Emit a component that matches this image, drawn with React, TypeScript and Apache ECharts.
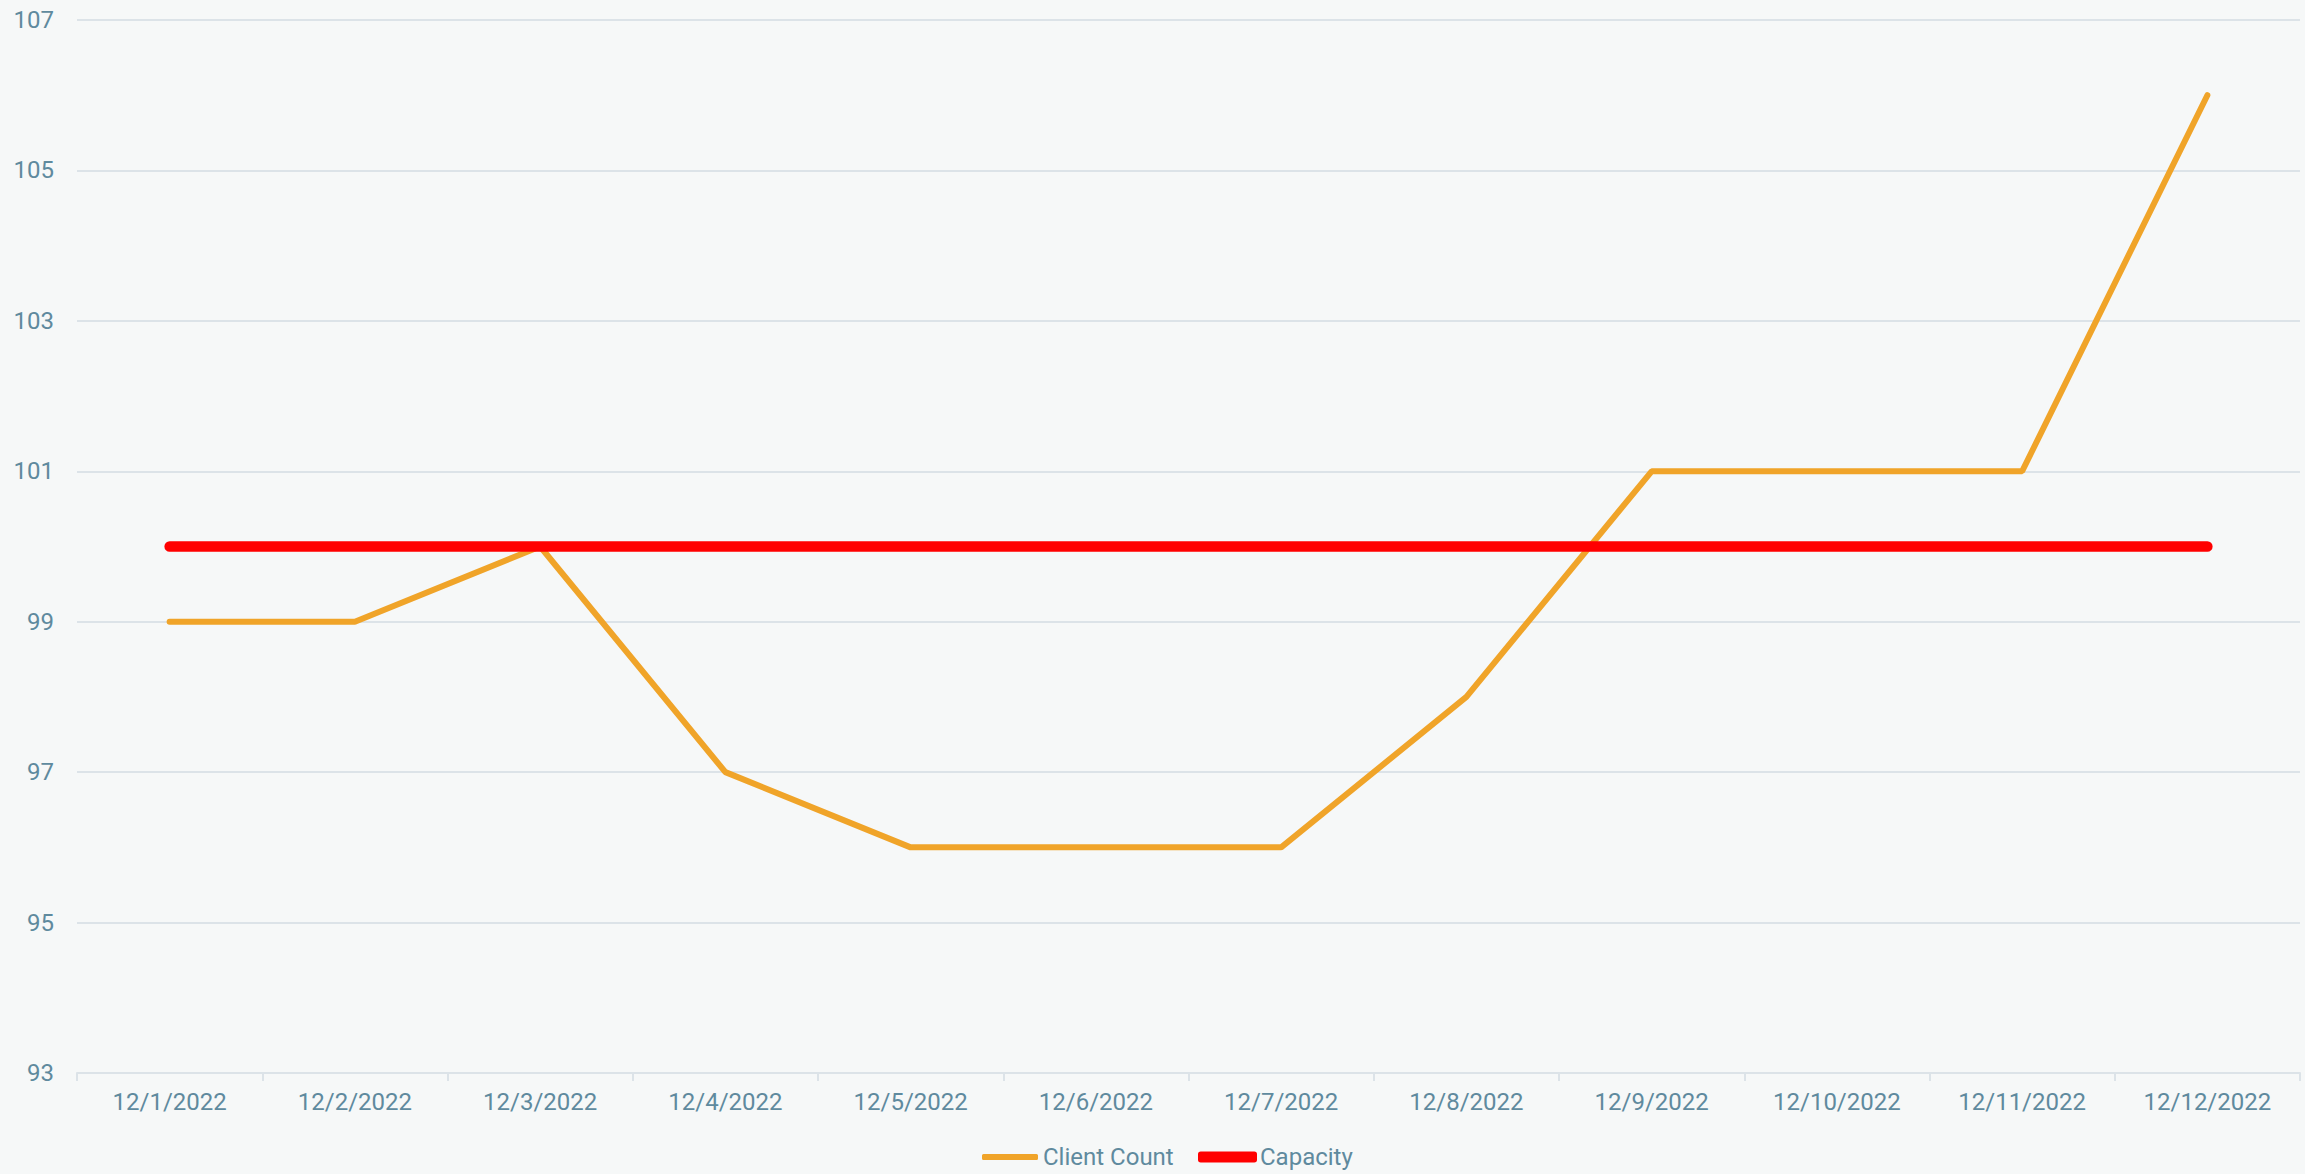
import React, { useEffect, useRef } from "react";
import * as echarts from "echarts";

const categories = [
  "12/1/2022", "12/2/2022", "12/3/2022", "12/4/2022", "12/5/2022", "12/6/2022",
  "12/7/2022", "12/8/2022", "12/9/2022", "12/10/2022", "12/11/2022", "12/12/2022",
];
const clientCount = [99, 99, 100, 97, 96, 96, 96, 98, 101, 101, 101, 106];
const capacity = [100, 100, 100, 100, 100, 100, 100, 100, 100, 100, 100, 100];
const yMin = 93;
const yMax = 107;
const yInterval = 2;

const labelColor = "#5F8A9E";
const gridColor = "#DCE3E8";
const orange = "#F0A429";
const red = "#FF0000";

export default function App() {
  const ref = useRef<HTMLDivElement>(null);
  useEffect(() => {
    document.body.style.margin = "0";
    const chart = echarts.init(ref.current!, null, { renderer: "svg" });
    const legendText = { color: labelColor, fontSize: 24, fontFamily: "Roboto" };
    chart.setOption({
      animation: false,
      backgroundColor: "#F6F8F8",
      textStyle: { fontFamily: "Roboto" },
      grid: { left: 77, right: 5, top: 20, bottom: 101, containLabel: false },
      legend: [
        {
          top: 1145,
          left: 982,
          padding: 0,
          itemWidth: 56,
          itemHeight: 6,
          icon: "roundRect",
          textStyle: legendText,
          data: [{ name: "Client Count", itemStyle: { color: orange } }],
        },
        {
          top: 1145,
          left: 1198,
          padding: 0,
          itemWidth: 59,
          itemHeight: 11,
          itemGap: 0,
          icon: "roundRect",
          textStyle: { ...legendText, padding: [0, 0, 0, -2] },
          data: [{ name: "Capacity", itemStyle: { color: red } }],
        },
      ],
      xAxis: {
        type: "category",
        data: categories,
        boundaryGap: true,
        axisLine: { lineStyle: { color: gridColor, width: 2 } },
        axisTick: { show: true, length: 8, lineStyle: { color: gridColor, width: 2 } },
        axisLabel: { color: labelColor, fontSize: 24, margin: 17, fontFamily: "Roboto" },
      },
      yAxis: {
        type: "value",
        min: yMin,
        max: yMax,
        interval: yInterval,
        axisLine: { show: false },
        axisTick: { show: false },
        splitLine: { lineStyle: { color: gridColor, width: 2 } },
        axisLabel: { color: labelColor, fontSize: 24, margin: 23, fontFamily: "Roboto" },
      },
      series: [
        {
          name: "Client Count",
          type: "line",
          data: clientCount,
          showSymbol: false,
          symbol: "none",
          itemStyle: { color: orange },
          lineStyle: { color: orange, width: 6, cap: "round" },
          z: 2,
        },
        {
          name: "Capacity",
          type: "line",
          data: capacity,
          showSymbol: false,
          symbol: "none",
          itemStyle: { color: red },
          lineStyle: { color: red, width: 10.5, cap: "round" },
          z: 3,
        },
      ],
    });
    return () => chart.dispose();
  }, []);
  return (
    <div
      ref={ref}
      style={{ position: "fixed", left: 0, top: 0, width: 2305, height: 1174 }}
    />
  );
}
